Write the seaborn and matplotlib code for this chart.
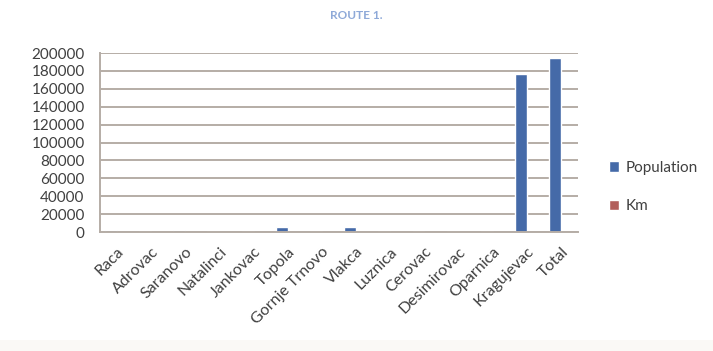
import matplotlib
matplotlib.use("Agg")
import matplotlib.pyplot as plt
import seaborn as sns
import pandas as pd
from matplotlib.patches import Rectangle

# Settlements along the route
places = ["Raca", "Adrovac", "Saranovo", "Natalinci", "Jankovac", "Topola",
          "Gornje Trnovo", "Vlakca", "Luznica", "Cerovac", "Desimirovac",
          "Oparnica", "Kragujevac", "Total"]
population = [2600, 900, 1700, 1200, 1100, 5400, 1000, 5500, 800, 1200,
              1100, 700, 177000, 194000]
km = [0, 8, 6, 5, 4, 7, 6, 5, 4, 6, 5, 4, 10, 70]
series_names = ["Population", "Km"]
series_colors = ["#3566B8", "#C0504D"]

df = pd.DataFrame({
    "Place": places * 2,
    "Value": population + km,
    "Series": [series_names[0]] * len(places) + [series_names[1]] * len(places),
})

sns.set_theme(style="white")
plt.rcParams["font.family"] = ["Lato", "DejaVu Sans"]

fig = plt.figure(figsize=(7.13, 3.51), dpi=100)
fig.patch.set_facecolor("white")
# pale strip along the bottom edge
fig.patches.append(Rectangle((0.0, 0.0), 1.0, 0.03, transform=fig.transFigure,
                             facecolor="#FAF9F6", edgecolor="none", zorder=0))

ax = fig.add_axes([0.140, 0.339, 0.671, 0.510])
sns.barplot(data=df, x="Place", y="Value", hue="Series", palette=series_colors,
            width=0.7, ax=ax, legend=True)

ax.set_ylim(0, 200000)
ax.set_yticks(range(0, 200001, 20000))
ax.set_yticklabels([str(v) for v in range(0, 200001, 20000)],
                   fontsize=11, color="#404040")
ax.yaxis.grid(True, color="#B5ADA6", linewidth=1.4)
ax.set_axisbelow(True)
ax.set_xlabel("")
ax.set_ylabel("")
ax.set_xlim(-0.5, len(places) - 0.5)
plt.setp(ax.get_xticklabels(), rotation=45, ha="right", rotation_mode="anchor",
         fontsize=11.5, color="#404040")
ax.tick_params(axis="y", length=0, pad=11)
ax.tick_params(axis="x", length=0, pad=9)
for side in ["top", "right"]:
    ax.spines[side].set_visible(False)
ax.spines["left"].set_color("#B5ADA6")
ax.spines["bottom"].set_color("#B5ADA6")
ax.spines["left"].set_linewidth(1.4)
ax.spines["bottom"].set_linewidth(1.4)

ax.legend(loc="center left", bbox_to_anchor=(1.035, 0.25), frameon=False,
          fontsize=11, handlelength=0.7, handleheight=0.7, handletextpad=0.4,
          labelspacing=1.6, labelcolor="#404040")

fig.text(0.5, 0.955, "ROUTE 1.", ha="center", va="center", fontsize=8.5,
         fontweight="bold", color="#8EA9D8")

fig.savefig("out.png", dpi=100)
